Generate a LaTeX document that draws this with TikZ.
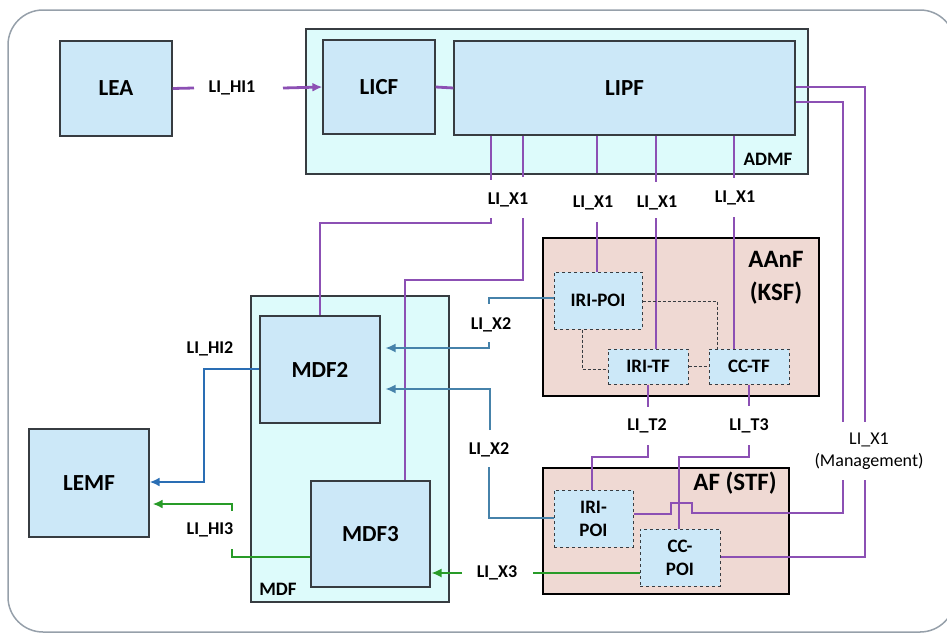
\documentclass[tikz,border=0pt]{standalone}
\usepackage{fontspec}
\setmainfont{Carlito}
\usetikzlibrary{arrows.meta}
\definecolor{boxblue}{RGB}{204,232,248}
\definecolor{cyanfill}{RGB}{221,251,251}
\definecolor{pinkfill}{RGB}{239,217,211}
\definecolor{bordgray}{RGB}{55,60,65}
\definecolor{framegray}{RGB}{150,160,170}
\definecolor{purp}{RGB}{140,80,180}
\definecolor{blueL}{RGB}{42,110,180}
\definecolor{blueX}{RGB}{70,130,170}
\definecolor{greenL}{RGB}{40,155,40}
\begin{document}
\begin{tikzpicture}[x=1pt,y=-1pt,
  box/.style={draw=bordgray, fill=boxblue, line width=1.2pt, inner sep=0pt,
    font=\bfseries\fontsize{23}{26}\selectfont},
  cont/.style={draw=bordgray, fill=cyanfill, line width=1.2pt, inner sep=0pt},
  pinkbox/.style={draw=black, fill=pinkfill, line width=2.6pt, inner sep=0pt},
  dbox/.style={draw=bordgray, fill=boxblue, dashed, line width=1pt, inner sep=0pt,
    align=center, font=\bfseries\fontsize{19}{23}\selectfont},
  lbl/.style={font=\bfseries\fontsize{18}{20}\selectfont, inner sep=1pt},
  cname/.style={font=\bfseries\fontsize{19}{21}\selectfont, inner sep=1pt},
  bigname/.style={font=\bfseries\fontsize{25}{33}\selectfont, inner sep=1pt, align=center},
  pur/.style={draw=purp, line width=2.8pt},
  dotc/.style={draw=bordgray, line width=0.8pt, densely dashed},
  xtwo/.style={draw=blueX, line width=1.4pt},
  hitwo/.style={draw=blueL, line width=2.8pt},
  xthree/.style={draw=greenL, line width=1.4pt},
  hithree/.style={draw=greenL, line width=2.8pt},
  tip/.style={-{Latex[length=10pt,width=9pt]}},
]
\useasboundingbox (0,0) rectangle (947,635);
\draw[framegray, line width=1.5pt, rounded corners=35pt] (8,10) rectangle (955,632);

% containers
\node[cont, minimum width=502pt, minimum height=145pt] (admf) at (557,101.5) {};
\node[cname] (admflbl) at (768,159) {ADMF};
\node[cont, minimum width=198pt, minimum height=306pt] (mdf) at (350,449) {};
\node[cname] (mdflbl) at (278,589) {MDF};
\node[pinkbox, minimum width=276pt, minimum height=158pt] (aanf) at (681,317) {};
\node[bigname] (aanflbl) at (776,278) {AAnF\\(KSF)};
\node[pinkbox, minimum width=246pt, minimum height=126pt] (af) at (666,531) {};
\node[bigname] (aflbl) at (735,483) {AF (STF)};

% function boxes
\node[box, minimum width=112pt, minimum height=95pt] (lea) at (116,88.5) {LEA};
\node[box, minimum width=112pt, minimum height=94pt] (licf) at (379,87) {LICF};
\node[box, minimum width=341pt, minimum height=94pt] (lipf) at (624.5,88) {LIPF};
\node[box, minimum width=120pt, minimum height=107pt] (mdf2) at (320,369.5) {MDF2};
\node[box, minimum width=119pt, minimum height=106pt] (mdf3) at (370.5,534) {MDF3};
\node[box, minimum width=120pt, minimum height=108pt] (lemf) at (89,483) {LEMF};
\node[dbox, minimum width=88pt, minimum height=57pt] (iripoia) at (598,300.5) {IRI-POI};
\node[dbox, minimum width=80pt, minimum height=35pt] (iritf) at (648,366.5) {IRI-TF};
\node[dbox, minimum width=80pt, minimum height=35pt] (cctf) at (749,366.5) {CC-TF};
\node[dbox, minimum width=79pt, minimum height=57pt] (iripoib) at (593.5,518.5) {IRI-\\POI};
\node[dbox, minimum width=80pt, minimum height=57pt] (ccpoi) at (680,557.5) {CC-\\POI};

% labels
\node[lbl] (hi1) at (232,88) {LI\_HI1};
\node[lbl] (x1a) at (508,200) {LI\_X1};
\node[lbl] (x1b) at (593,203) {LI\_X1};
\node[lbl] (x1c) at (657,203) {LI\_X1};
\node[lbl] (x1d) at (735,198) {LI\_X1};
\node[lbl] (x2a) at (491,325) {LI\_X2};
\node[lbl] (x2b) at (489,450) {LI\_X2};
\node[lbl] (t2) at (647,426) {LI\_T2};
\node[lbl] (t3) at (749,426) {LI\_T3};
\node[font=\fontsize{18}{22}\selectfont, align=center, inner sep=1pt] (x1m) at (869,451) {LI\_X1\\(Management)};
\node[lbl] (x3) at (497,573) {LI\_X3};
\node[lbl] (hi2) at (210,349) {LI\_HI2};
\node[lbl] (hi3) at (210,530) {LI\_HI3};

% free ends
\coordinate (hi1a) at (194,88);
\coordinate (hi1b) at (283,88);

% HI1
\draw[pur] (lea.east) -- (hi1a);
\draw[pur, tip] (hi1b) -- (licf.west);
\draw[pur] (licf.east) -- (lipf.west);

% LI_X1 from LIPF bottom
\draw[pur] (lipf.south -| 491,0) -- (491,180);
\draw[pur] (lipf.south -| 523,0) -- (523,177);
\draw[pur] (491,218) -- (491,223) -- (320,223) -- (mdf2.north -| 320,0);
\draw[pur] (523,218) -- (523,280) -- (405,280) -- (mdf3.north -| 405,0);
\draw[pur] (lipf.south -| 597,0) -- (597,173);
\draw[pur] (597,222) -- (iripoia.north -| 597,0);
\draw[pur] (lipf.south -| 656,0) -- (656,182);
\draw[pur] (656,218) -- (iritf.north -| 656,0);
\draw[pur] (lipf.south -| 734,0) -- (734,178);
\draw[pur] (734,217) -- (cctf.north -| 734,0);

% LI_X1 management
\draw[pur] (lipf.east |- 0,87) -- (865,87) -- (865,422);
\draw[pur] (865,480) -- (865,557) -- (ccpoi.east |- 0,557);
\draw[pur] (lipf.east |- 0,102) -- (843,102) -- (843,422);
\draw[pur] (843,480) -- (843,513) -- (692,513) -- (692,503) -- (671,503) -- (671,514) -- (iripoib.east |- 0,514);

% LI_T2 / LI_T3
\draw[pur] (iritf.south) -- (648,407);
\draw[pur] (648,445) -- (648,457) -- (592,457) -- (iripoib.north -| 592,0);
\draw[pur] (cctf.south) -- (749,406);
\draw[pur] (749,445) -- (749,457) -- (679,457) -- (ccpoi.north -| 679,0);

% internal AAnF
\draw[dotc] (iripoia.east |- 0,301) -- (717,301) -- (cctf.north -| 717,0);
\draw[dotc] (iripoia.south -| 582,0) -- (582,369) -- (iritf.west |- 0,369);
\draw[dotc] (iritf.east) -- (cctf.west);

% LI_X2
\draw[xtwo] (iripoia.west |- 0,298) -- (489,298) -- (489,304);
\draw[xtwo, tip, shorten >=5pt] (489,342) -- (489,348) -- (mdf2.east |- 0,348);
\draw[xtwo, tip, shorten >=5pt] (490,430) -- (490,389) -- (mdf2.east |- 0,389);
\draw[xtwo] (489,467) -- (489,518) -- (iripoib.west |- 0,518);

% LI_X3
\draw[xthree] (ccpoi.west |- 0,573) -- (533,573);
\draw[xthree, tip, shorten >=1pt] (462,573) -- (mdf3.east |- 0,573);

% LI_HI2
\draw[hitwo, tip] (mdf2.west |- 0,369) -- (204,369) -- (204,482) -- (lemf.east |- 0,482);

% LI_HI3
\draw[hithree] (mdf3.west |- 0,557) -- (232,557) -- (232,549);
\draw[hithree, tip, shorten >=3pt] (232,511) -- (232,504) -- (lemf.east |- 0,504);
\end{tikzpicture}
\end{document}
